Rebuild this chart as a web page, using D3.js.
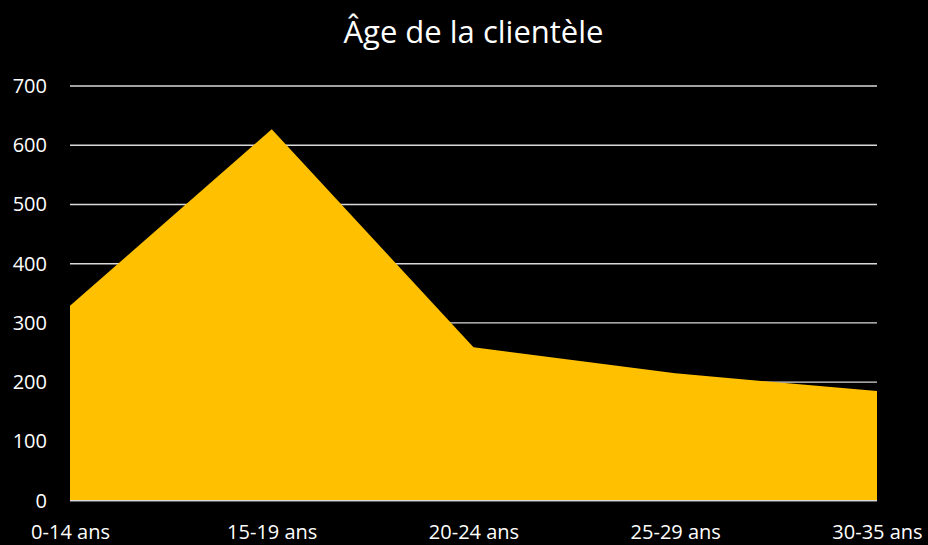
<!DOCTYPE html>
<html>
<head>
<meta charset="utf-8">
<script src="https://cdn.jsdelivr.net/npm/d3@7"></script>
<style>
  body { margin: 0; background: #000; }
  svg { display: block; }
  text { font-family: "Open Sans", sans-serif; fill: #fff; }
</style>
</head>
<body>
<script>
// chart data
const categories = ["0-14 ans", "15-19 ans", "20-24 ans", "25-29 ans", "30-35 ans"];
const clients = [329, 627, 259, 215, 185];
const yTicks = [0, 100, 200, 300, 400, 500, 600, 700];
const title = "Âge de la clientèle";

const width = 928, height = 545;
const margin = { top: 86, right: 51, bottom: 44.3, left: 70 };

const svg = d3.select("body")
  .append("svg")
  .attr("width", width)
  .attr("height", height);

svg.append("rect")
  .attr("width", width)
  .attr("height", height)
  .attr("fill", "#000");

// Scales
const xScale = d3.scalePoint()
  .domain(categories)
  .range([margin.left, width - margin.right]);

const yScale = d3.scaleLinear()
  .domain([0, 700])
  .range([height - margin.bottom, margin.top]);

// Grid lines
svg.append("g")
  .selectAll("line")
  .data(yTicks)
  .enter()
  .append("line")
  .attr("x1", margin.left)
  .attr("x2", width - margin.right)
  .attr("y1", (d) => yScale(d))
  .attr("y2", (d) => yScale(d))
  .attr("stroke", "#d9d9d9")
  .attr("stroke-width", 1.3);

// Area
const area = d3.area()
  .x((d, i) => xScale(categories[i]))
  .y0(yScale(0))
  .y1((d) => yScale(d));

svg.append("path")
  .datum(clients)
  .attr("d", area)
  .attr("fill", "#FFC000");

// bottom axis line on top of the area
svg.append("line")
  .attr("x1", margin.left)
  .attr("x2", width - margin.right)
  .attr("y1", yScale(0))
  .attr("y2", yScale(0))
  .attr("stroke", "#d9d9d9")
  .attr("stroke-width", 1.3);

// Y axis labels
const yAxis = svg.append("g")
  .attr("transform", `translate(${margin.left - 23}, 0)`)
  .call(d3.axisLeft(yScale).tickValues(yTicks).tickSize(0).tickPadding(0));
yAxis.select(".domain").remove();
yAxis.selectAll("text")
  .attr("font-size", 20)
  .attr("font-family", "Open Sans, sans-serif")
  .attr("fill", "#fff");

// X axis labels
const xAxis = svg.append("g")
  .attr("transform", `translate(0, ${yScale(0)})`)
  .call(d3.axisBottom(xScale).tickSize(0).tickPadding(0));
xAxis.select(".domain").remove();
xAxis.selectAll("text")
  .attr("font-size", 20)
  .attr("font-family", "Open Sans, sans-serif")
  .attr("fill", "#fff")
  .attr("dy", null)
  .attr("y", 38);

// Title
svg.append("text")
  .attr("x", (margin.left + width - margin.right) / 2)
  .attr("y", 43)
  .attr("text-anchor", "middle")
  .attr("font-size", 31)
  .text(title);
</script>
</body>
</html>
